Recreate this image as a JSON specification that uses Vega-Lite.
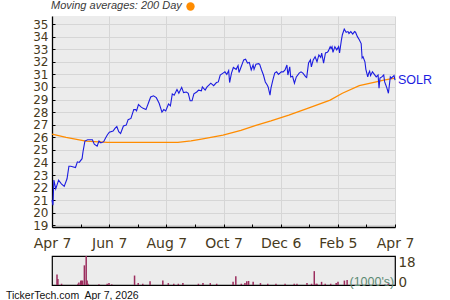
{
  "$schema": "https://vega.github.io/schema/vega-lite/v6.json",
  "padding": {"left": 5, "top": 2, "right": 0, "bottom": 0},
  "background": "white",
  "bounds": "flush",
  "spacing": 29,
  "config": {"font": "Liberation Sans", "view": {"stroke": null}},
  "datasets": {
    "price": [
      {"date": "2025-04-07", "close": 21.0}, {"date": "2025-04-08", "close": 20.6}, {"date": "2025-04-09", "close": 22.6}, {"date": "2025-04-11", "close": 21.9}, {"date": "2025-04-14", "close": 22.6}, {"date": "2025-04-17", "close": 22.3}, {"date": "2025-04-20", "close": 22.1}, {"date": "2025-04-23", "close": 22.7}, {"date": "2025-04-25", "close": 23.7}, {"date": "2025-04-27", "close": 23.7},
      {"date": "2025-05-02", "close": 23.6}, {"date": "2025-05-04", "close": 24.05}, {"date": "2025-05-06", "close": 24.0}, {"date": "2025-05-09", "close": 24.3}, {"date": "2025-05-10", "close": 24.85}, {"date": "2025-05-12", "close": 25.7}, {"date": "2025-05-15", "close": 25.8}, {"date": "2025-05-17", "close": 25.8}, {"date": "2025-05-20", "close": 25.8}, {"date": "2025-05-22", "close": 25.45}, {"date": "2025-05-25", "close": 25.3}, {"date": "2025-05-27", "close": 25.7}, {"date": "2025-05-29", "close": 25.55},
      {"date": "2025-06-01", "close": 25.65}, {"date": "2025-06-03", "close": 25.95}, {"date": "2025-06-05", "close": 26.2}, {"date": "2025-06-07", "close": 26.4}, {"date": "2025-06-11", "close": 26.5}, {"date": "2025-06-13", "close": 26.7}, {"date": "2025-06-15", "close": 26.85}, {"date": "2025-06-17", "close": 26.45}, {"date": "2025-06-19", "close": 26.3}, {"date": "2025-06-22", "close": 26.9}, {"date": "2025-06-25", "close": 26.97}, {"date": "2025-06-27", "close": 27.4}, {"date": "2025-06-30", "close": 27.5},
      {"date": "2025-07-03", "close": 28.2}, {"date": "2025-07-05", "close": 28.2}, {"date": "2025-07-06", "close": 28.1}, {"date": "2025-07-08", "close": 28.6}, {"date": "2025-07-11", "close": 28.4}, {"date": "2025-07-13", "close": 28.3}, {"date": "2025-07-16", "close": 28.2}, {"date": "2025-07-19", "close": 28.8}, {"date": "2025-07-21", "close": 29.2}, {"date": "2025-07-24", "close": 29.3}, {"date": "2025-07-27", "close": 29.15}, {"date": "2025-07-30", "close": 28.7},
      {"date": "2025-08-02", "close": 28.0}, {"date": "2025-08-04", "close": 28.2}, {"date": "2025-08-06", "close": 28.1}, {"date": "2025-08-09", "close": 28.65}, {"date": "2025-08-11", "close": 28.5}, {"date": "2025-08-13", "close": 29.45}, {"date": "2025-08-15", "close": 29.35}, {"date": "2025-08-18", "close": 29.8}, {"date": "2025-08-20", "close": 29.5}, {"date": "2025-08-23", "close": 29.97}, {"date": "2025-08-25", "close": 29.55}, {"date": "2025-08-28", "close": 29.6}, {"date": "2025-08-30", "close": 29.5},
      {"date": "2025-09-01", "close": 28.9}, {"date": "2025-09-03", "close": 28.9}, {"date": "2025-09-05", "close": 29.45}, {"date": "2025-09-08", "close": 29.6}, {"date": "2025-09-10", "close": 29.75}, {"date": "2025-09-13", "close": 29.7}, {"date": "2025-09-14", "close": 30.0}, {"date": "2025-09-17", "close": 29.75}, {"date": "2025-09-19", "close": 30.0}, {"date": "2025-09-21", "close": 30.15}, {"date": "2025-09-23", "close": 30.3}, {"date": "2025-09-26", "close": 30.1}, {"date": "2025-09-29", "close": 30.35},
      {"date": "2025-10-01", "close": 30.4}, {"date": "2025-10-03", "close": 30.95}, {"date": "2025-10-06", "close": 31.1}, {"date": "2025-10-08", "close": 31.2}, {"date": "2025-10-10", "close": 31.0}, {"date": "2025-10-12", "close": 31.3}, {"date": "2025-10-13", "close": 30.35}, {"date": "2025-10-15", "close": 31.1}, {"date": "2025-10-17", "close": 31.55}, {"date": "2025-10-20", "close": 31.4}, {"date": "2025-10-22", "close": 31.7}, {"date": "2025-10-23", "close": 31.15}, {"date": "2025-10-25", "close": 31.55}, {"date": "2025-10-28", "close": 32.15}, {"date": "2025-10-30", "close": 32.2},
      {"date": "2025-11-01", "close": 31.9}, {"date": "2025-11-03", "close": 31.95}, {"date": "2025-11-05", "close": 31.35}, {"date": "2025-11-07", "close": 31.75}, {"date": "2025-11-08", "close": 31.4}, {"date": "2025-11-10", "close": 31.8}, {"date": "2025-11-13", "close": 31.85}, {"date": "2025-11-14", "close": 31.8}, {"date": "2025-11-16", "close": 31.35}, {"date": "2025-11-18", "close": 30.95}, {"date": "2025-11-20", "close": 30.4}, {"date": "2025-11-22", "close": 30.15}, {"date": "2025-11-23", "close": 30.0}, {"date": "2025-11-25", "close": 29.35}, {"date": "2025-11-26", "close": 29.9}, {"date": "2025-11-28", "close": 30.55}, {"date": "2025-11-30", "close": 31.1},
      {"date": "2025-12-02", "close": 31.2}, {"date": "2025-12-04", "close": 31.0}, {"date": "2025-12-07", "close": 31.2}, {"date": "2025-12-09", "close": 31.2}, {"date": "2025-12-11", "close": 31.35}, {"date": "2025-12-13", "close": 31.75}, {"date": "2025-12-14", "close": 30.95}, {"date": "2025-12-16", "close": 31.6}, {"date": "2025-12-17", "close": 30.8}, {"date": "2025-12-19", "close": 30.85}, {"date": "2025-12-21", "close": 30.3}, {"date": "2025-12-23", "close": 30.8}, {"date": "2025-12-26", "close": 31.1}, {"date": "2025-12-28", "close": 31.2}, {"date": "2025-12-30", "close": 31.1},
      {"date": "2026-01-02", "close": 30.8}, {"date": "2026-01-03", "close": 30.75}, {"date": "2026-01-05", "close": 31.9}, {"date": "2026-01-07", "close": 32.15}, {"date": "2026-01-08", "close": 31.6}, {"date": "2026-01-10", "close": 32.15}, {"date": "2026-01-12", "close": 32.4}, {"date": "2026-01-14", "close": 32.0}, {"date": "2026-01-16", "close": 32.55}, {"date": "2026-01-18", "close": 32.35}, {"date": "2026-01-19", "close": 32.7}, {"date": "2026-01-21", "close": 31.9}, {"date": "2026-01-23", "close": 32.7}, {"date": "2026-01-25", "close": 32.75}, {"date": "2026-01-26", "close": 32.85}, {"date": "2026-01-28", "close": 33.2}, {"date": "2026-01-29", "close": 33.05}, {"date": "2026-01-30", "close": 33.2}, {"date": "2026-01-31", "close": 32.75},
      {"date": "2026-02-02", "close": 33.2}, {"date": "2026-02-04", "close": 32.95}, {"date": "2026-02-06", "close": 33.2}, {"date": "2026-02-07", "close": 32.7}, {"date": "2026-02-09", "close": 33.75}, {"date": "2026-02-10", "close": 34.15}, {"date": "2026-02-12", "close": 34.6}, {"date": "2026-02-14", "close": 34.35}, {"date": "2026-02-16", "close": 34.4}, {"date": "2026-02-17", "close": 34.25}, {"date": "2026-02-19", "close": 34.4}, {"date": "2026-02-21", "close": 34.2}, {"date": "2026-02-23", "close": 34.4}, {"date": "2026-02-24", "close": 34.35}, {"date": "2026-02-26", "close": 34.0}, {"date": "2026-02-28", "close": 33.75},
      {"date": "2026-03-02", "close": 33.45}, {"date": "2026-03-03", "close": 32.3}, {"date": "2026-03-04", "close": 32.4}, {"date": "2026-03-06", "close": 32.0}, {"date": "2026-03-07", "close": 31.4}, {"date": "2026-03-09", "close": 30.8}, {"date": "2026-03-10", "close": 31.1}, {"date": "2026-03-11", "close": 31.25}, {"date": "2026-03-12", "close": 30.9}, {"date": "2026-03-14", "close": 31.2}, {"date": "2026-03-16", "close": 31.0}, {"date": "2026-03-18", "close": 30.8}, {"date": "2026-03-20", "close": 30.95}, {"date": "2026-03-21", "close": 29.9}, {"date": "2026-03-22", "close": 30.7}, {"date": "2026-03-24", "close": 30.8}, {"date": "2026-03-26", "close": 30.95}, {"date": "2026-03-27", "close": 30.4}, {"date": "2026-03-29", "close": 30.0}, {"date": "2026-03-31", "close": 29.5},
      {"date": "2026-04-02", "close": 30.8}, {"date": "2026-04-03", "close": 30.7}, {"date": "2026-04-06", "close": 30.9}, {"date": "2026-04-07", "close": 30.55}
    ],
    "ma": [
      {"date": "2025-04-07", "ma": 26.25}, {"date": "2025-04-22", "ma": 26.0}, {"date": "2025-05-06", "ma": 25.8}, {"date": "2025-05-13", "ma": 25.7}, {"date": "2025-06-05", "ma": 25.6}, {"date": "2025-07-11", "ma": 25.6}, {"date": "2025-08-19", "ma": 25.6}, {"date": "2025-09-02", "ma": 25.72}, {"date": "2025-09-13", "ma": 25.86}, {"date": "2025-10-06", "ma": 26.18}, {"date": "2025-10-25", "ma": 26.55}, {"date": "2025-11-10", "ma": 26.95}, {"date": "2025-11-26", "ma": 27.3}, {"date": "2025-12-15", "ma": 27.76}, {"date": "2026-01-04", "ma": 28.3}, {"date": "2026-01-28", "ma": 28.96}, {"date": "2026-02-10", "ma": 29.5}, {"date": "2026-02-28", "ma": 30.1}, {"date": "2026-03-18", "ma": 30.41}, {"date": "2026-03-26", "ma": 30.55}, {"date": "2026-04-07", "ma": 30.7}
    ],
    "vol": [
      {"date": "2025-04-07", "vol": 8.3}, {"date": "2025-04-08", "vol": 4.8}, {"date": "2025-04-12", "vol": 1.0}, {"date": "2025-04-30", "vol": 1.0}, {"date": "2025-05-01", "vol": 2.0}, {"date": "2025-05-03", "vol": 3.5}, {"date": "2025-05-04", "vol": 3.5}, {"date": "2025-05-05", "vol": 3.5}, {"date": "2025-05-07", "vol": 15.6}, {"date": "2025-05-09", "vol": 25}, {"date": "2025-05-10", "vol": 3.5}, {"date": "2025-05-11", "vol": 1.0}, {"date": "2025-05-23", "vol": 0.5},
      {"date": "2025-06-01", "vol": 1.0}, {"date": "2025-06-03", "vol": 1.5}, {"date": "2025-06-06", "vol": 0.5}, {"date": "2025-07-01", "vol": 7.5}, {"date": "2025-07-05", "vol": 1.5}, {"date": "2025-07-10", "vol": 1.0}, {"date": "2025-07-18", "vol": 3.0}, {"date": "2025-08-01", "vol": 3.5}, {"date": "2025-08-07", "vol": 1.5}, {"date": "2025-08-13", "vol": 1.0}, {"date": "2025-08-18", "vol": 1.0}, {"date": "2025-08-23", "vol": 1.5},
      {"date": "2025-09-09", "vol": 1.0}, {"date": "2025-09-14", "vol": 1.5}, {"date": "2025-09-22", "vol": 1.5}, {"date": "2025-09-29", "vol": 1.0}, {"date": "2025-10-17", "vol": 2.5}, {"date": "2025-10-20", "vol": 7.0}, {"date": "2025-10-26", "vol": 1.0}, {"date": "2025-10-30", "vol": 1.5}, {"date": "2025-11-01", "vol": 3.0}, {"date": "2025-11-03", "vol": 3.2}, {"date": "2025-11-08", "vol": 2.5}, {"date": "2025-11-16", "vol": 1.5}, {"date": "2025-11-24", "vol": 1.0},
      {"date": "2025-12-03", "vol": 1.0}, {"date": "2025-12-13", "vol": 1.0}, {"date": "2025-12-23", "vol": 1.0}, {"date": "2025-12-26", "vol": 1.0}, {"date": "2026-01-06", "vol": 1.5}, {"date": "2026-01-11", "vol": 1.0}, {"date": "2026-01-14", "vol": 11.0}, {"date": "2026-01-16", "vol": 1.0}, {"date": "2026-01-17", "vol": 1.0}, {"date": "2026-01-22", "vol": 2.5}, {"date": "2026-01-26", "vol": 1.0},
      {"date": "2026-02-01", "vol": 1.0}, {"date": "2026-02-07", "vol": 1.5}, {"date": "2026-02-09", "vol": 2.5}, {"date": "2026-02-16", "vol": 3.5}, {"date": "2026-02-19", "vol": 4.0}, {"date": "2026-04-05", "vol": 1.0}
    ]
  },
  "vconcat": [
    {
      "width": 343,
      "height": 211,
      "view": {"fill": "#ececec", "stroke": null},
      "layer": [
        {
          "data": {"name": "ma"},
          "mark": {"type": "line", "strokeWidth": 1.3},
          "encoding": {
            "x": {
              "field": "date", "type": "temporal",
              "scale": {"type": "utc", "domain": [{"year": 2025, "month": 4, "date": 7, "utc": true}, {"year": 2026, "month": 4, "date": 7, "utc": true}]},
              "axis": {
                "title": null,
                "tickCount": 30,
                "values": [
                  {"year": 2025, "month": 4, "date": 7, "hours": 0, "utc": true},
                  {"year": 2025, "month": 5, "date": 7, "hours": 10, "utc": true},
                  {"year": 2025, "month": 6, "date": 6, "hours": 20, "utc": true},
                  {"year": 2025, "month": 7, "date": 7, "hours": 6, "utc": true},
                  {"year": 2025, "month": 8, "date": 6, "hours": 16, "utc": true},
                  {"year": 2025, "month": 9, "date": 6, "hours": 2, "utc": true},
                  {"year": 2025, "month": 10, "date": 6, "hours": 12, "utc": true},
                  {"year": 2025, "month": 11, "date": 5, "hours": 22, "utc": true},
                  {"year": 2025, "month": 12, "date": 6, "hours": 8, "utc": true},
                  {"year": 2026, "month": 1, "date": 5, "hours": 18, "utc": true},
                  {"year": 2026, "month": 2, "date": 5, "hours": 4, "utc": true},
                  {"year": 2026, "month": 3, "date": 7, "hours": 14, "utc": true},
                  {"year": 2026, "month": 4, "date": 7, "hours": 0, "utc": true}
                ],
                "labelExpr": "utcmonth(datum.value) % 2 == 1 ? utcFormat(datum.value + 43200000, '%b %-d') : ''",
                "grid": true,
                "gridColor": "#d6d6d6",
                "gridOpacity": {"condition": {"test": "utcmonth(datum.value) % 2 == 1", "value": 1}, "value": 0},
                "domainColor": "#000000",
                "domainWidth": 1.3,
                "tickColor": "#000000",
                "tickSize": -3,
                "labelPadding": 12,
                "labelFont": "DejaVu Sans",
                "labelFontSize": 14,
                "labelColor": "#473a1c",
                "labelFlush": false,
                "labelOverlap": false
              }
            },
            "y": {
              "field": "ma", "type": "quantitative",
              "scale": {"domain": [18.87, 35.64], "nice": false, "zero": false},
              "axis": {
                "title": null,
                "tickCount": 30,
                "format": "d",
                "values": [19, 20, 21, 22, 23, 24, 25, 26, 27, 28, 29, 30, 31, 32, 33, 34, 35],
                "grid": true,
                "gridColor": "#d6d6d6",
                "domainColor": "#000000",
                "domainWidth": 1.3,
                "tickColor": "#000000",
                "tickSize": -3,
                "labelPadding": 7,
                "labelFont": "DejaVu Sans",
                "labelFontSize": 12,
                "labelColor": "#473a1c",
                "labelOverlap": false
              }
            },
            "color": {
              "datum": "200 Day",
              "scale": {"range": ["#ff8c00"]},
              "legend": {
                "orient": "none",
                "legendX": -1,
                "legendY": -14,
                "title": "Moving averages: 200 Day",
                "titleOrient": "left",
                "titleFont": "Liberation Sans",
                "titleFontStyle": "italic",
                "titleFontWeight": "normal",
                "titleFontSize": 11,
                "titleColor": "#3a3a3a",
                "titlePadding": 4,
                "labelExpr": "''",
                "labelFontSize": 1,
                "symbolType": "circle",
                "symbolSize": 70,
                "symbolStrokeWidth": 0,
                "symbolFillColor": "#ff8c00",
                "symbolOpacity": 1,
                "encode": {"symbols": {"update": {"fill": {"value": "#ff8c00"}, "stroke": {"value": "#ff8c00"}}}}
              }
            }
          }
        },
        {
          "data": {"name": "price"},
          "mark": {"type": "line", "color": "#1c1ce0", "strokeWidth": 1.1},
          "encoding": {
            "x": {"field": "date", "type": "temporal"},
            "y": {"field": "close", "type": "quantitative"}
          }
        },
        {
          "data": {"values": [{"date": "2026-04-07", "close": 30.55, "label": "SOLR"}]},
          "mark": {"type": "text", "align": "left", "baseline": "middle", "dx": 3, "color": "#1c1ce0", "fontSize": 12.5, "font": "Liberation Sans"},
          "encoding": {
            "x": {"field": "date", "type": "temporal"},
            "y": {"field": "close", "type": "quantitative"},
            "text": {"field": "label"}
          }
        }
      ]
    },
    {
      "width": 343,
      "height": 29,
      "view": {"fill": "#ececec", "stroke": "#000000", "strokeWidth": 1.2},
      "data": {"name": "vol"},
      "mark": {"type": "bar", "color": "#9b2d5e", "width": 1.5, "clip": true},
      "encoding": {
        "x": {
          "field": "date", "type": "temporal",
          "scale": {"type": "utc", "domain": [{"year": 2025, "month": 4, "date": 7, "utc": true}, {"year": 2026, "month": 4, "date": 7, "utc": true}]},
          "axis": null
        },
        "y": {
          "field": "vol", "type": "quantitative",
          "scale": {"domain": [0, 23], "nice": false},
          "axis": {
            "orient": "right",
            "values": [0, 18],
            "grid": false,
            "ticks": false,
            "domain": false,
            "labelPadding": 3,
            "labelFont": "DejaVu Sans",
            "labelFontSize": 13.5,
            "labelColor": "#473a1c",
            "labelFlush": false,
            "labelBaseline": {"condition": {"test": "datum.value == 0", "value": "alphabetic"}, "value": "middle"},
            "labelOffset": {"condition": {"test": "datum.value == 0", "value": 1}, "value": 0},
            "title": "(1000's)",
            "titleAngle": 0,
            "titleX": -46,
            "titleY": 25,
            "titleAlign": "left",
            "titleBaseline": "middle",
            "titleFont": "Liberation Sans",
            "titleFontSize": 12.5,
            "titleFontWeight": "normal",
            "titleColor": "#5b8a72"
          }
        }
      },
      "title": {
        "text": "TickerTech.com\u00a0 Apr 7, 2026",
        "orient": "bottom",
        "anchor": "start",
        "frame": "group",
        "dx": -46,
        "offset": 2,
        "font": "Liberation Sans",
        "fontSize": 10.5,
        "fontWeight": "normal",
        "color": "#111111"
      }
    }
  ]
}
